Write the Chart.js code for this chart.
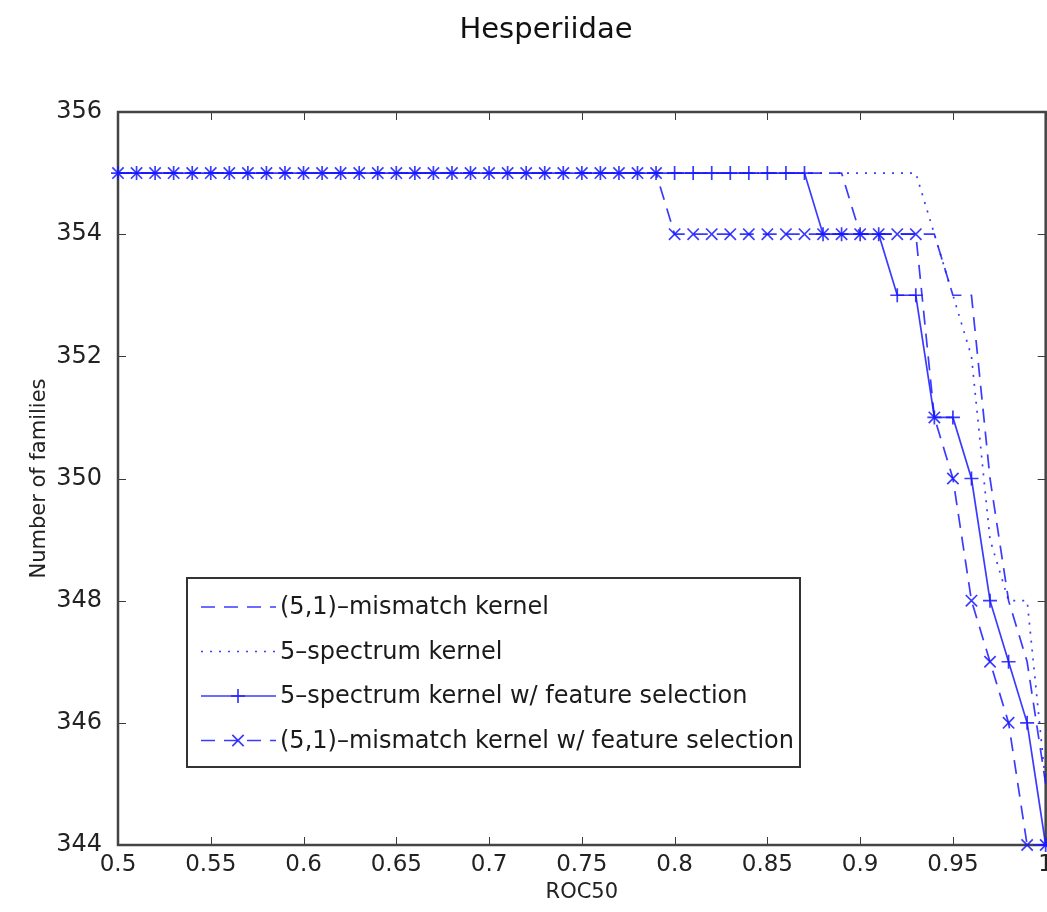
<!DOCTYPE html>
<html>
<head>
<meta charset="utf-8">
<title>Hesperiidae</title>
<script src="https://cdn.jsdelivr.net/npm/chart.js@4.4.1/dist/chart.umd.min.js"></script>
<style>
  html, body { margin: 0; padding: 0; background: #fff; overflow: hidden; }
  #wrap { width: 1047px; height: 912px; overflow: hidden; }
</style>
</head>
<body>
<div id="wrap"><canvas id="chart" width="1059" height="912"></canvas></div>
<script>
// ROC50 thresholds (x) and number of families (y) per method
const roc = [0.50,0.51,0.52,0.53,0.54,0.55,0.56,0.57,0.58,0.59,
             0.60,0.61,0.62,0.63,0.64,0.65,0.66,0.67,0.68,0.69,
             0.70,0.71,0.72,0.73,0.74,0.75,0.76,0.77,0.78,0.79,
             0.80,0.81,0.82,0.83,0.84,0.85,0.86,0.87,0.88,0.89,
             0.90,0.91,0.92,0.93,0.94,0.95,0.96,0.97,0.98,0.99,1.00];

const mismatch   = [355,355,355,355,355,355,355,355,355,355,
                    355,355,355,355,355,355,355,355,355,355,
                    355,355,355,355,355,355,355,355,355,355,
                    355,355,355,355,355,355,355,355,355,355,
                    354,354,354,354,354,353,353,350,348,347,345];
const spectrum   = [355,355,355,355,355,355,355,355,355,355,
                    355,355,355,355,355,355,355,355,355,355,
                    355,355,355,355,355,355,355,355,355,355,
                    355,355,355,355,355,355,355,355,355,355,
                    355,355,355,355,354,353,352,349,348,348,345];
const spectrumFS = [355,355,355,355,355,355,355,355,355,355,
                    355,355,355,355,355,355,355,355,355,355,
                    355,355,355,355,355,355,355,355,355,355,
                    355,355,355,355,355,355,355,355,354,354,
                    354,354,353,353,351,351,350,348,347,346,344];
const mismatchFS = [355,355,355,355,355,355,355,355,355,355,
                    355,355,355,355,355,355,355,355,355,355,
                    355,355,355,355,355,355,355,355,355,355,
                    354,354,354,354,354,354,354,354,354,354,
                    354,354,354,354,351,350,348,347,346,344,344];

const seriesNames = ["(5,1)\u2013mismatch kernel",
                     "5\u2013spectrum kernel",
                     "5\u2013spectrum kernel w/ feature selection",
                     "(5,1)\u2013mismatch kernel w/ feature selection"];

const xTicks = [0.5,0.55,0.6,0.65,0.7,0.75,0.8,0.85,0.9,0.95,1];
const yTicks = [344,346,348,350,352,354,356];
const titleText = "Hesperiidae";

const BLUE = "rgba(25,25,255,0.85)";
const FONT = "'DejaVu Sans', sans-serif";

function pts(arr) { return roc.map((x, i) => ({x: x, y: arr[i]})); }

// title sits a bit left of the page centre in the original
const topTitle = {
  id: "topTitle",
  afterDraw(chart) {
    const ctx = chart.ctx;
    ctx.save();
    ctx.fillStyle = "#111";
    ctx.font = "29px " + FONT;
    ctx.textAlign = "center";
    ctx.textBaseline = "middle";
    ctx.fillText(titleText, 546, 30);
    ctx.restore();
  }
};

// box round the plot + inward tick marks, like matlab axes
const axesBox = {
  id: "axesBox",
  beforeDatasetsDraw(chart) {
    const {ctx, chartArea: a} = chart;
    const xs = chart.scales.x, ys = chart.scales.y;
    ctx.save();
    ctx.strokeStyle = "#3a3a3a";
    ctx.lineWidth = 1;
    ctx.beginPath();
    xTicks.forEach(v => {
      const px = Math.round(xs.getPixelForValue(v)) + 0.5;
      ctx.moveTo(px, a.bottom); ctx.lineTo(px, a.bottom - 8);
      ctx.moveTo(px, a.top); ctx.lineTo(px, a.top + 8);
    });
    yTicks.forEach(v => {
      const py = Math.round(ys.getPixelForValue(v)) + 0.5;
      ctx.moveTo(a.left, py); ctx.lineTo(a.left + 8, py);
      ctx.moveTo(a.right, py); ctx.lineTo(a.right - 8, py);
    });
    ctx.stroke();
    ctx.lineWidth = 2.5;
    ctx.strokeStyle = "#444";
    ctx.strokeRect(a.left, a.top, a.right - a.left, a.bottom - a.top);
    ctx.restore();
  }
};

// legend box inside the plot, lower left
const boxLegend = {
  id: "boxLegend",
  afterDraw(chart) {
    const ctx = chart.ctx;
    const L = 187, T = 578, W = 613, H = 189;
    ctx.save();
    ctx.fillStyle = "#fff";
    ctx.fillRect(L, T, W, H);
    ctx.strokeStyle = "#333";
    ctx.lineWidth = 2;
    ctx.strokeRect(L, T, W, H);
    chart.data.datasets.forEach((ds, i) => {
      const y = T + 29 + i * 44.5;
      ctx.strokeStyle = ds.borderColor;
      ctx.lineWidth = ds.borderWidth;
      ctx.setLineDash(ds.borderDash || []);
      ctx.beginPath();
      ctx.moveTo(201, y); ctx.lineTo(276, y);
      ctx.stroke();
      ctx.setLineDash([]);
      if (ds.pointRadius > 0) {
        Chart.helpers.drawPoint(ctx, {pointStyle: ds.pointStyle, radius: ds.pointRadius, borderWidth: ds.borderWidth}, 238, y);
      }
      ctx.fillStyle = "#1a1a1a";
      ctx.font = "24px " + FONT;
      ctx.textBaseline = "middle";
      ctx.textAlign = "left";
      ctx.fillText(ds.label, 280, y + 1);
    });
    ctx.restore();
  }
};

new Chart(document.getElementById("chart"), {
  type: "line",
  data: {
    datasets: [
      {label: seriesNames[0], data: pts(mismatch), borderColor: BLUE, borderWidth: 1.7,
       borderDash: [14, 9], pointRadius: 0},
      {label: seriesNames[1], data: pts(spectrum), borderColor: BLUE, borderWidth: 1.7,
       borderDash: [2, 7], pointRadius: 0},
      {label: seriesNames[2], data: pts(spectrumFS), borderColor: BLUE, borderWidth: 1.7,
       pointStyle: "cross", pointRadius: 7, pointBorderColor: BLUE, pointBorderWidth: 1.7},
      {label: seriesNames[3], data: pts(mismatchFS), borderColor: BLUE, borderWidth: 1.7,
       borderDash: [14, 9], pointStyle: "crossRot", pointRadius: 8, pointBorderColor: BLUE, pointBorderWidth: 1.7}
    ]
  },
  options: {
    responsive: false,
    animation: false,
    clip: false,
    layout: {padding: {left: 0, right: 0, top: 112, bottom: 0}},
    plugins: {
      legend: {display: false},
      tooltip: {enabled: false},
      title: {display: false}
    },
    scales: {
      x: {
        type: "linear", min: 0.5, max: 1,
        grid: {display: false, drawTicks: false},
        border: {display: false},
        afterBuildTicks: s => { s.ticks = xTicks.map(v => ({value: v})); },
        afterFit: s => { s.height = 67; },
        ticks: {color: "#222", padding: 6, maxRotation: 0, autoSkip: false,
                font: {family: FONT, size: 23},
                callback: v => String(+v.toFixed(2))},
        title: {display: true, text: "ROC50", color: "#222",
                font: {family: FONT, size: 21}, padding: {top: 0, bottom: 7}}
      },
      y: {
        type: "linear", min: 344, max: 356,
        grid: {display: false, drawTicks: false},
        border: {display: false},
        afterBuildTicks: s => { s.ticks = yTicks.map(v => ({value: v})); },
        afterFit: s => { s.width = 118; },
        ticks: {color: "#222", padding: 16, autoSkip: false,
                font: {family: FONT, size: 24}},
        title: {display: true, text: "Number of families", color: "#222",
                font: {family: FONT, size: 21}, padding: {top: 27, bottom: 0}}
      }
    }
  },
  plugins: [axesBox, boxLegend, topTitle]
});
</script>
</body>
</html>
